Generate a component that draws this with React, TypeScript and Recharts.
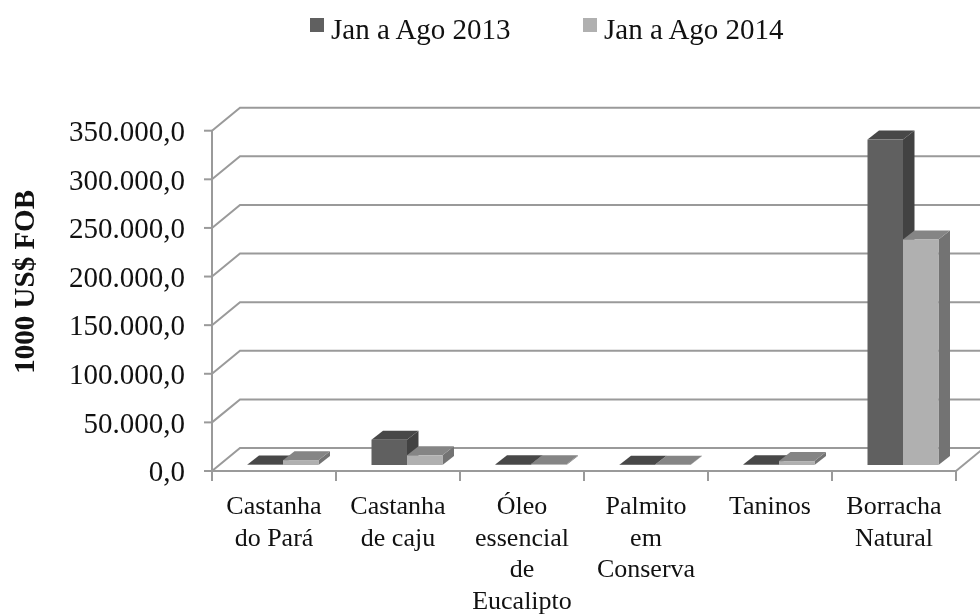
import { Bar, BarChart, CartesianGrid, Legend, XAxis, YAxis } from 'recharts';

const categories = [
  'Castanha do Pará',
  'Castanha de caju',
  'Óleo essencial de Eucalipto',
  'Palmito em Conserva',
  'Taninos',
  'Borracha Natural',
];
const categoryLines = [
  ['Castanha', 'do Pará'],
  ['Castanha', 'de caju'],
  ['Óleo', 'essencial', 'de', 'Eucalipto'],
  ['Palmito', 'em', 'Conserva'],
  ['Taninos'],
  ['Borracha', 'Natural'],
];
const values2013 = [500, 26000, 800, 300, 800, 334700];
const values2014 = [5000, 10000, 800, 300, 4000, 232000];
const yTicks = [0, 50000, 100000, 150000, 200000, 250000, 300000, 350000];

const SERIES_2013 = 'Jan a Ago 2013';
const SERIES_2014 = 'Jan a Ago 2014';

const FONT = '"Liberation Serif", "Times New Roman", serif';
const INK = '#111';
const AXIS_GREY = '#9a9a9a';
const WIDTH = 980;
const HEIGHT = 615;
const BAND = 124;
// fake 3D: how far the back wall sits from the front axes, and where the bars stand on the floor
const WALL_DX = 28;
const WALL_DY = 23;
const BAR_DX = 8.5;
const BAR_DY = 6;
const DEPTH_DX = 11.5;
const DEPTH_DY = 9;
// recharts hands a custom tick its y already moved down by the default tick size
const TICK_SHIFT = 8;

const tableData = categories.map((name, i) => ({
  name,
  y2013: values2013[i],
  y2014: values2014[i],
}));

const colours2013 = { front: '#606060', top: '#484848', side: '#424242' };
const colours2014 = { front: '#b0b0b0', top: '#858585', side: '#737373' };

function Box3D(props: any) {
  const { x, y, width, height, colours } = props;
  const left = x + BAR_DX;
  const right = left + width;
  const top = y - BAR_DY;
  const bottom = top + height;
  return (
    <g>
      <polygon
        points={`${right},${top} ${right + DEPTH_DX},${top - DEPTH_DY} ${right + DEPTH_DX},${bottom - DEPTH_DY} ${right},${bottom}`}
        fill={colours.side}
      />
      <polygon
        points={`${left},${top} ${left + DEPTH_DX},${top - DEPTH_DY} ${right + DEPTH_DX},${top - DEPTH_DY} ${right},${top}`}
        fill={colours.top}
      />
      <rect x={left} y={top} width={width} height={height} fill={colours.front} />
    </g>
  );
}

function WallLine(props: any) {
  const { x1, x2, y1 } = props;
  return (
    <path
      key={`wall-${y1}`}
      d={`M${x1},${y1} L${x1 + WALL_DX},${y1 - WALL_DY} L${x2 + WALL_DX},${y1 - WALL_DY}`}
      fill="none"
      stroke={AXIS_GREY}
      strokeWidth={2}
    />
  );
}

function CategoryTick(props: any) {
  const { x, y, payload, index } = props;
  const axisY = y - TICK_SHIFT;
  const lines = categoryLines[index] ?? [payload.value];
  const last = index === categories.length - 1;
  return (
    <g>
      <line x1={x - BAND / 2} x2={x - BAND / 2} y1={axisY} y2={axisY + 10} stroke={AXIS_GREY} strokeWidth={2} />
      {last && (
        <>
          <line x1={x + BAND / 2} x2={x + BAND / 2} y1={axisY} y2={axisY + 10} stroke={AXIS_GREY} strokeWidth={2} />
          <path
            d={`M${x + BAND / 2},${axisY} L${x + BAND / 2 + WALL_DX},${axisY - WALL_DY}`}
            stroke={AXIS_GREY}
            strokeWidth={2}
            fill="none"
          />
        </>
      )}
      <text x={x} y={axisY + 43} textAnchor="middle" fontFamily={FONT} fontSize={26} fill={INK}>
        {lines.map((line: string, i: number) => (
          <tspan key={line} x={x} dy={i === 0 ? 0 : 31.6}>
            {line}
          </tspan>
        ))}
      </text>
    </g>
  );
}

function YTitle(props: any) {
  const { viewBox } = props;
  const cy = viewBox.y + viewBox.height / 2 - 19;
  return (
    <text
      x={34}
      y={cy}
      transform={`rotate(-90 34 ${cy})`}
      textAnchor="middle"
      fontFamily={FONT}
      fontSize={29}
      fontWeight={700}
      fill={INK}
    >
      1000 US$ FOB
    </text>
  );
}

function LegendRow() {
  const items = [
    { name: SERIES_2013, colour: colours2013.front, left: 310 },
    { name: SERIES_2014, colour: colours2014.front, left: 583 },
  ];
  return (
    <div style={{ position: 'relative', width: WIDTH, height: 60, fontFamily: FONT, fontSize: 29, color: INK }}>
      {items.map((item) => (
        <div key={item.name}>
          <div style={{ position: 'absolute', left: item.left, top: 18, width: 14, height: 14, background: item.colour }} />
          <div style={{ position: 'absolute', left: item.left + 21, top: 13, lineHeight: '33px', whiteSpace: 'nowrap' }}>
            {item.name}
          </div>
        </div>
      ))}
    </div>
  );
}

export default function App() {
  return (
    <div
      style={{
        position: 'absolute',
        left: 0,
        top: 0,
        width: WIDTH,
        height: HEIGHT,
        overflow: 'hidden',
        background: '#fff',
        filter: 'blur(0.5px)',
      }}
    >
      <BarChart
        width={WIDTH}
        height={HEIGHT}
        data={tableData}
        margin={{ top: 70.7, right: 24, bottom: 0, left: 0 }}
        barSize={35.5}
        barGap={0}
      >
        <CartesianGrid vertical={false} horizontal={(p: any) => <WallLine {...p} />} />
        <XAxis
          dataKey="name"
          height={144}
          interval={0}
          tickLine={false}
          axisLine={{ stroke: AXIS_GREY, strokeWidth: 2 }}
          tick={<CategoryTick />}
        />
        <YAxis
          width={212}
          domain={[0, 350000]}
          ticks={yTicks}
          interval={0}
          tickSize={8}
          tickMargin={19}
          axisLine={{ stroke: AXIS_GREY, strokeWidth: 2 }}
          tickLine={{ stroke: AXIS_GREY, strokeWidth: 2 }}
          tick={{ fontFamily: FONT, fontSize: 29, fill: INK }}
          tickFormatter={(v: number) => v.toLocaleString('pt-BR', { minimumFractionDigits: 1 })}
          label={<YTitle />}
        />
        <Legend verticalAlign="top" content={<LegendRow />} wrapperStyle={{ left: 0, top: 0, width: WIDTH, height: 60 }} />
        <Bar dataKey="y2013" name={SERIES_2013} isAnimationActive={false} shape={<Box3D colours={colours2013} />} />
        <Bar dataKey="y2014" name={SERIES_2014} isAnimationActive={false} shape={<Box3D colours={colours2014} />} />
      </BarChart>
    </div>
  );
}
